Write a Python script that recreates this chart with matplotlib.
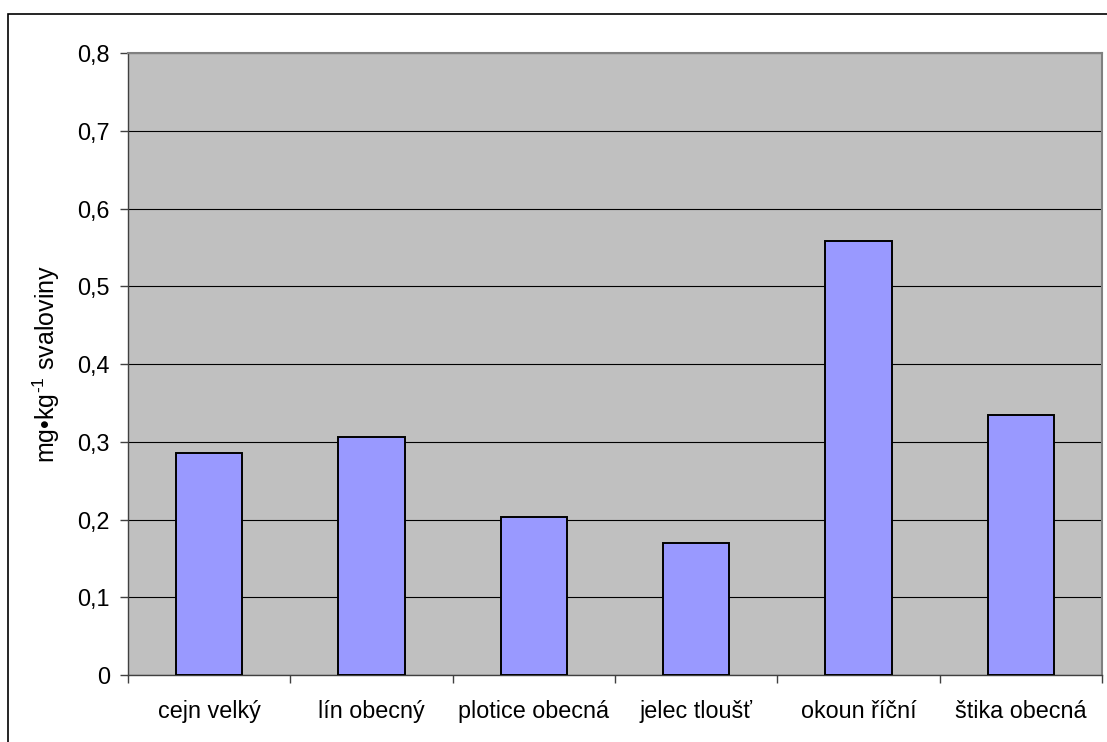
import matplotlib.pyplot as plt
import matplotlib.patches as mpatches
import numpy as np

plt.rcParams['font.family'] = ['Liberation Sans', 'DejaVu Sans']
plt.rcParams['mathtext.fontset'] = 'custom'
plt.rcParams['mathtext.rm'] = 'Liberation Sans'
plt.rcParams['mathtext.it'] = 'Liberation Sans'

# fish species and mercury content in muscle (mg/kg)
species = ['cejn velký', 'lín obecný', 'plotice obecná', 'jelec tloušť',
           'okoun říční', 'štika obecná']
mercury = [0.285, 0.306, 0.203, 0.170, 0.558, 0.334]
y_ticks = [0, 0.1, 0.2, 0.3, 0.4, 0.5, 0.6, 0.7, 0.8]

fig = plt.figure(figsize=(11.07, 7.42), dpi=100)
ax = fig.add_axes([128 / 1107, 67 / 742, 974 / 1107, 622 / 742])
ax.set_facecolor('#c0c0c0')

x = np.arange(len(species))
ax.bar(x, mercury, width=0.41, color='#9999ff', edgecolor='black',
       linewidth=1.4, zorder=3)

ax.set_xlim(-0.5, len(species) - 0.5)
ax.set_ylim(0, 0.8)

# y axis with decimal commas
ax.set_yticks(y_ticks)
ax.set_yticklabels([('%g' % v).replace('.', ',') for v in y_ticks])
ax.yaxis.grid(True, color='black', linewidth=0.8, zorder=1)
ax.tick_params(axis='y', direction='out', length=6, width=1,
               color='#404040', pad=7, labelsize=16.8)

# ticks between categories, labels centred under the bars
ax.set_xticks(np.arange(len(species) + 1) - 0.5)
ax.set_xticklabels([])
ax.set_xticks(x, minor=True)
ax.set_xticklabels(species, minor=True)
ax.tick_params(axis='x', which='major', direction='out', length=6,
               width=1, color='#404040')
ax.tick_params(axis='x', which='minor', length=0, pad=18, labelsize=16.8)

for side in ['top', 'right']:
    ax.spines[side].set_color('#808080')
    ax.spines[side].set_linewidth(1.5)
for side in ['left', 'bottom']:
    ax.spines[side].set_color('#404040')
    ax.spines[side].set_linewidth(1)

ax.set_ylabel(r'mg•kg$^{\text{-1}}$ svaloviny', fontsize=18)
ax.yaxis.set_label_coords(-0.068, 0.5)

# outer frame of the chart area
frame = mpatches.Rectangle((8 / 1107, -0.1), 1.2, 1 - 14 / 742 + 0.1,
                           transform=fig.transFigure, fill=False,
                           edgecolor='black', linewidth=1.2)
fig.patches.append(frame)

fig.savefig('out.png', dpi=100)
